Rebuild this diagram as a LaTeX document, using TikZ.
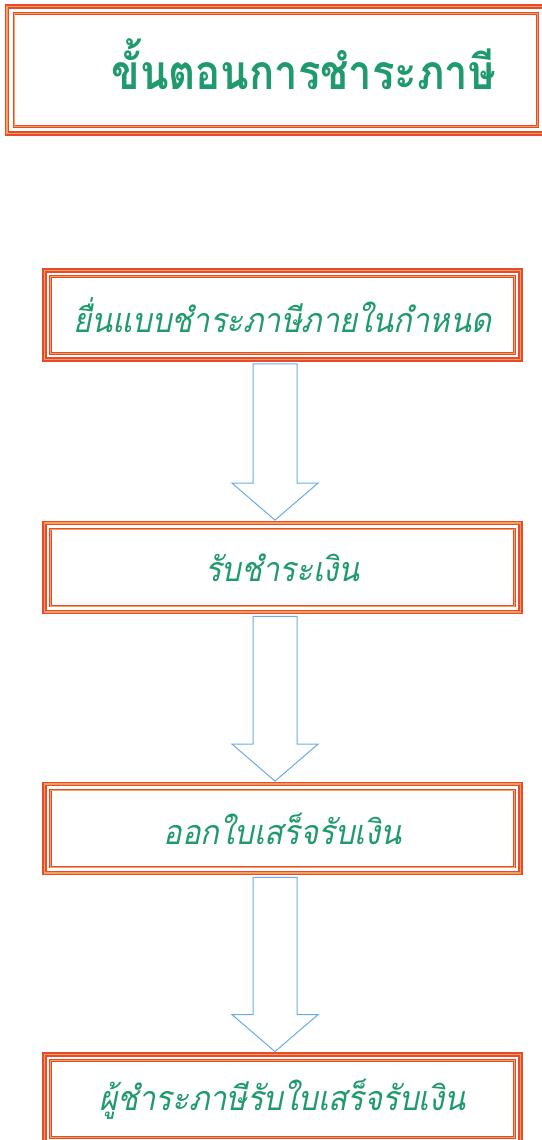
\documentclass[tikz,border=0pt]{standalone}
\usepackage{fontspec}
\newfontfamily\thaifont[Script=Thai, AutoFakeSlant=0.2, FakeStretch=0.91]{Loma}
\newfontfamily\thaititle[Script=Thai, AutoFakeSlant=0.2, FakeStretch=0.87]{Loma}
\usetikzlibrary{positioning, calc}

\definecolor{boxred}{HTML}{E84A2E}
\definecolor{boxorange}{HTML}{F4A15A}
\definecolor{textgreen}{HTML}{1F9A6C}
\definecolor{arrowblue}{HTML}{66ACE8}

\tikzset{
  framebox/.style={draw=boxred, line width=0.9pt, double=boxorange, double distance=0.6pt,
    minimum width=238pt, minimum height=44.5pt, inner sep=0pt},
  innerline/.style={draw=boxred, line width=0.4pt, double=boxorange, double distance=0.4pt},
  steptext/.style={text=textgreen, font=\thaifont\itshape\fontsize{17}{20}\selectfont},
  blockarrow/.style={draw=arrowblue, line width=0.5pt, line join=miter}
}

% inner frame of a box
\newcommand{\innerframe}[2]{\draw[innerline] ($(#1.north west)+(#2,#2)$) rectangle ($(#1.south east)+(-#2,-#2)$);}
% hollow arrow from one box down to the next
\newcommand{\blockarrow}[2]{%
  \path ($(#1.south)+(-7.5,3.5)$) coordinate (atop) ($(#2.north)+(-7.5,-2)$) coordinate (atip);
  \draw[blockarrow] ($(atop)+(-22,0)$) -- ($(atip)+(-22,-37)$) -- ($(atip)+(-43,-37)$) -- (atip)
    -- ($(atip)+(43,-37)$) -- ($(atip)+(22,-37)$) -- ($(atop)+(22,0)$) -- cycle;}

\begin{document}
\begin{tikzpicture}[x=0.5pt, y=-0.5pt]
\useasboundingbox (0,0) rectangle (541,1140);

% Title
\node[framebox, minimum width=268.75pt, minimum height=63.5pt] (titlebox) at (275.75,70) {};
\innerframe{titlebox}{8}
\node[text=textgreen, font=\thaititle\bfseries\itshape\fontsize{24}{28}\selectfont] (title) at (303.5,64) {ขั้นตอนการชำระภาษี};

% Steps
\node[framebox, steptext] (file) at (282.5,315) {ยื่นแบบชำระภาษีภายในกำหนด};
\node[framebox, steptext] (pay) at (282.5,567.5) {รับชำระเงิน};
\node[framebox, steptext] (receipt) at (282.5,828.5) {ออกใบเสร็จรับเงิน};
\node[framebox, steptext] (payer) at (282.5,1099) {ผู้ชำระภาษีรับใบเสร็จรับเงิน};
\foreach \b in {file, pay, receipt, payer} {\innerframe{\b}{7}}

% Arrows between steps
\blockarrow{file}{pay}
\blockarrow{pay}{receipt}
\blockarrow{receipt}{payer}
\end{tikzpicture}
\end{document}
